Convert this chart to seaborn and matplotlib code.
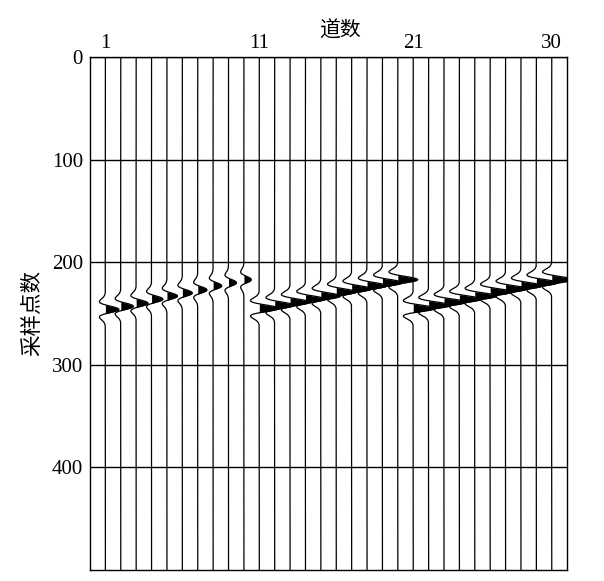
import numpy as np
import matplotlib
matplotlib.use('Agg')
import matplotlib.pyplot as plt
import seaborn as sns

# 道号 1..30
trace_no = list(range(1, 31))

# 各道同相轴峰值所在采样点
arrival = [246, 243, 240, 236, 233, 230, 227, 223, 220, 217,
           245, 242, 239, 236, 233, 229, 226, 223, 220, 217,
           245, 242, 239, 236, 233, 229, 226, 223, 220, 217]

# 各道振幅（以道间距为单位）
gain = [0.88, 0.83, 0.78, 0.74, 0.69, 0.65, 0.60, 0.56, 0.52, 0.48,
        1.30, 1.28, 1.28, 1.28, 1.28, 1.28, 1.28, 1.28, 1.30, 1.30,
        1.45, 1.45, 1.44, 1.44, 1.42, 1.42, 1.40, 1.40, 1.38, 1.35]

# 子波形状（相对峰值的采样偏移 -16..16）
wavelet_offset = list(range(-16, 17))
wavelet = [-0.01, -0.03, -0.05, -0.09, -0.14, -0.22, -0.30, -0.38, -0.44,
           -0.44, -0.35, -0.17, 0.10, 0.41, 0.71, 0.92, 1.00,
           0.92, 0.71, 0.41, 0.10, -0.17, -0.35, -0.44, -0.44,
           -0.38, -0.30, -0.22, -0.14, -0.09, -0.05, -0.03, -0.01]

n_samples = 500
ytick_vals = [0, 100, 200, 300, 400]
xtick_vals = [1, 11, 21, 30]

sns.set_theme(style='white')
plt.rcParams['font.family'] = ['Liberation Serif', 'Noto Sans CJK SC']
plt.rcParams['axes.unicode_minus'] = False

fig = plt.figure(figsize=(6.04, 5.81), dpi=100)
ax = fig.add_axes([0.149, 0.019, 0.790, 0.883])

w = np.array(wavelet)
off = np.array(wavelet_offset)
for i, t0, g in zip(trace_no, arrival, gain):
    y = np.concatenate([[0], t0 + off, [n_samples]])
    x = np.concatenate([[i], i + g * w, [i]])
    sns.lineplot(x=x, y=y, sort=False, estimator=None, color='black',
                 linewidth=0.9, ax=ax)
    ax.fill_betweenx(y, i, x, where=x > i, color='black',
                     interpolate=True, linewidth=0)

ax.set_xlim(0, 31)
ax.set_ylim(n_samples, 0)
ax.xaxis.tick_top()
ax.xaxis.set_label_position('top')
ax.set_xticks(xtick_vals)
ax.set_yticks(ytick_vals)
ax.tick_params(axis='both', length=0, labelsize=15, colors='black')
ax.tick_params(axis='x', pad=3)
ax.tick_params(axis='y', pad=5)
ax.grid(axis='y', color='black', linewidth=1)
ax.grid(axis='x', visible=False)
for s in ax.spines.values():
    s.set_color('black')
    s.set_linewidth(1)

ax.set_xlabel('道数', fontsize=15, color='black')
ax.xaxis.set_label_coords(0.524, 1.039)
ax.set_ylabel('采样点数', fontsize=15.5, labelpad=6, color='black')

fig.savefig('out.png', dpi=100)
